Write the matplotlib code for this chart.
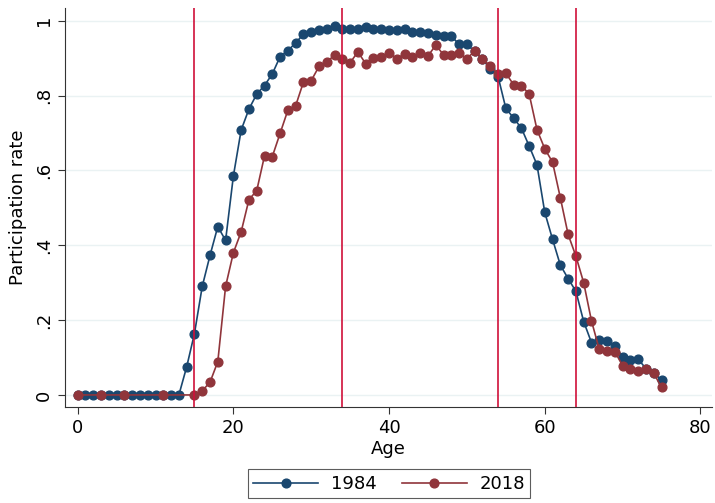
import matplotlib
matplotlib.use("Agg")
import matplotlib.pyplot as plt

# 1984 participation rate by age
ages_1984 = list(range(0, 76))
rate_1984 = [0, 0, 0, 0, 0, 0, 0, 0, 0, 0,
             0, 0, 0, 0, 0.075, 0.164, 0.29, 0.373, 0.45, 0.413,
             0.585, 0.708, 0.764, 0.804, 0.827, 0.858, 0.904, 0.92, 0.941, 0.964,
             0.971, 0.974, 0.979, 0.985, 0.979, 0.979, 0.979, 0.984, 0.979, 0.977,
             0.976, 0.976, 0.977, 0.971, 0.971, 0.967, 0.962, 0.96, 0.959, 0.937,
             0.937, 0.918, 0.898, 0.871, 0.851, 0.766, 0.74, 0.713, 0.665, 0.615,
             0.488, 0.416, 0.347, 0.311, 0.277, 0.196, 0.14, 0.148, 0.143, 0.132,
             0.102, 0.093, 0.096, 0.07, 0.06, 0.039]

# 2018 participation rate by age
ages_2018 = [0, 3, 6, 11] + list(range(15, 76))
rate_2018 = [0, 0, 0, 0,
             0, 0.011, 0.034, 0.089, 0.29,
             0.38, 0.436, 0.522, 0.546, 0.639, 0.637, 0.699, 0.761, 0.773, 0.836,
             0.84, 0.878, 0.889, 0.909, 0.897, 0.888, 0.917, 0.885, 0.9, 0.902,
             0.915, 0.899, 0.911, 0.902, 0.913, 0.906, 0.935, 0.909, 0.909, 0.913,
             0.898, 0.92, 0.899, 0.878, 0.858, 0.86, 0.829, 0.827, 0.804, 0.709,
             0.658, 0.622, 0.527, 0.429, 0.371, 0.3, 0.198, 0.122, 0.117, 0.116,
             0.078, 0.069, 0.065, 0.069, 0.058, 0.02]

vline_ages = [15, 34, 54, 64]
xticks = [0, 20, 40, 60, 80]
yticks = [0, 0.2, 0.4, 0.6, 0.8, 1.0]
ytick_labels = ["0", ".2", ".4", ".6", ".8", "1"]

navy = "#1A476F"
maroon = "#90353B"
vcolor = "#D0103A"

plt.rcParams["font.family"] = "DejaVu Sans"
fig = plt.figure(figsize=(7.15, 5.03), dpi=100)
ax = fig.add_axes([0.091, 0.191, 0.905, 0.793])

for y in yticks:
    ax.axhline(y, color="#EAF2F3", lw=1.0, zorder=0)

ax.plot(ages_1984, rate_1984, color=navy, marker="o", ms=6.3, lw=1.2,
        label="1984", zorder=3)
ax.plot(ages_2018, rate_2018, color=maroon, marker="o", ms=6.3, lw=1.2,
        label="2018", zorder=4)

for a in vline_ages:
    ax.axvline(a, color=vcolor, lw=1.2, zorder=5)

ax.set_xlim(-1.62, 81.5)
ax.set_ylim(-0.032, 1.034)
ax.set_xticks(xticks)
ax.set_yticks(yticks)
ax.set_yticklabels(ytick_labels, rotation=90, va="center")
ax.tick_params(labelsize=13, length=5, width=0.8, color="#333333")
ax.set_xlabel("Age", fontsize=13, labelpad=2)
ax.set_ylabel("Participation rate", fontsize=13, labelpad=6)

for s in ["top", "right"]:
    ax.spines[s].set_visible(False)
for s in ["left", "bottom"]:
    ax.spines[s].set_color("#333333")
    ax.spines[s].set_linewidth(0.8)

leg = fig.legend(loc="center", bbox_to_anchor=(0.544, 0.038), ncol=2,
                 fontsize=13, handlelength=3.6, columnspacing=1.4,
                 handletextpad=0.7, fancybox=False, edgecolor="#333333",
                 borderpad=0.3, markerscale=1.0)
leg.get_frame().set_linewidth(0.8)

fig.savefig("out.png", dpi=100)
